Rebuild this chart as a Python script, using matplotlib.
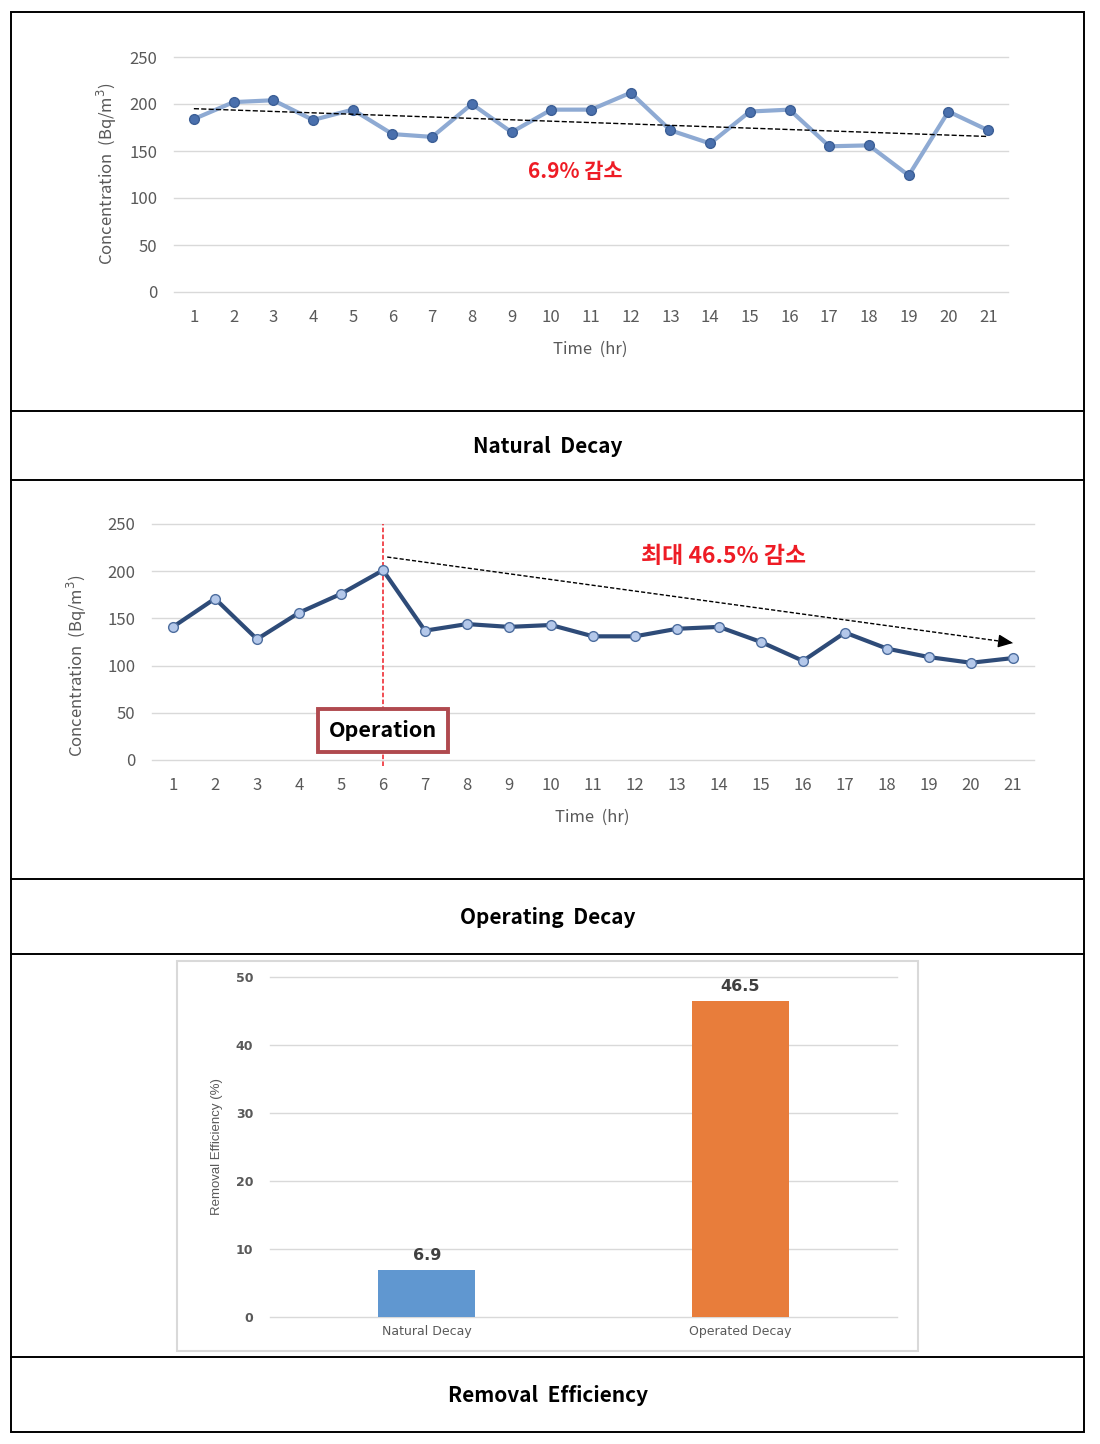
import matplotlib
matplotlib.use("Agg")
import matplotlib.pyplot as plt  # noqa: E402
import numpy as np  # noqa: E402
from matplotlib.lines import Line2D  # noqa: E402
from matplotlib.patches import Rectangle  # noqa: E402

# ---- data ------------------------------------------------------------ #
hours = np.arange(1, 22)
natural = [184, 202, 204, 183, 194, 168, 165, 200, 170, 194, 194,
           212, 172, 158, 192, 194, 155, 156, 124, 192, 172]
operating = [141, 171, 128, 156, 176, 201, 137, 144, 141, 143, 131,
             131, 139, 141, 125, 105, 135, 118, 109, 103, 108]
operation_hour = 6
arrow_start = (6.1, 215)
arrow_end = (21, 124)
categories = ["Natural Decay", "Operated Decay"]
efficiency = [6.9, 46.5]
captions = ["Natural  Decay", "Operating  Decay", "Removal  Efficiency"]

KR = ["Noto Sans CJK KR", "DejaVu Sans"]
plt.rcParams["font.family"] = KR
GRAY = "#595959"
GRID = "#d9d9d9"
RED = "#ee1c25"

W, H = 1100, 1444
fig = plt.figure(figsize=(W / 100, H / 100), dpi=100)


def box(x0, y0, x1, y1):
    """pixel box (top-left origin) -> figure fraction rect"""
    return [x0 / W, 1 - y1 / H, (x1 - x0) / W, (y1 - y0) / H]


def ftext(px, py, s, **kw):
    fig.text(px / W, 1 - py / H, s, **kw)


def hline(py, x0=11, x1=1084, lw=1.4):
    fig.add_artist(Line2D([x0 / W, x1 / W], [1 - py / H] * 2, color="black", lw=lw,
                          transform=fig.transFigure))


def style_axes(ax):
    ax.grid(axis="y", color=GRID, lw=1); ax.set_axisbelow(True)
    for gl in ax.get_ygridlines():
        gl.set_clip_on(False)
    for sp in ax.spines.values():
        sp.set_visible(False)


def style_line_axes(ax):
    ax.set_xlim(0.5, 21.5); ax.set_ylim(0, 250)
    ax.set_yticks(range(0, 251, 50)); ax.set_xticks(hours)
    style_axes(ax)
    ax.tick_params(length=0, labelsize=12, labelcolor=GRAY)
    ax.tick_params(axis="x", pad=12); ax.tick_params(axis="y", pad=12)


# --- table frame ------------------------------------------------------- #
fig.add_artist(Rectangle((11 / W, 1 - 1432 / H), 1073 / W, 1420 / H, fill=False,
                         ec="black", lw=1.4, transform=fig.transFigure))
for py in (411, 480, 879, 954, 1357):
    hline(py)
for py, cap in zip((446, 917, 1395), captions):
    ftext(548, py, cap, ha="center", va="center", fontsize=15, fontweight="bold")

# --- natural decay ---------------------------------------------------- #
ax = fig.add_axes(box(174, 57, 1008, 292))
style_line_axes(ax)
ax.plot(hours, natural, "-o", color="#8eaad3", lw=3, ms=7,
        mfc="#4a70ad", mec="#3c5f96", mew=1, zorder=3)
k, b = np.polyfit(hours, natural, 1)
ax.plot(hours[[0, -1]], k * hours[[0, -1]] + b, "--", color="black", lw=1, zorder=4)
ax.text(10.6, 128, "6.9% 감소", color=RED, fontsize=15, fontweight="bold",
        ha="center", va="center")
ftext(107, 174, "Concentration  (Bq/m$^3$)", rotation=90, ha="center", va="center",
      fontsize=12, color=GRAY)
ftext(590, 349, "Time  (hr)", ha="center", va="center", fontsize=12, color=GRAY)

# --- operating decay -------------------------------------------------- #
ax = fig.add_axes(box(152, 524, 1034, 760))
style_line_axes(ax)
ax.plot(hours, operating, "-o", color="#2e4b78", lw=3, ms=7,
        mfc="#b4c8ea", mec="#4d6d9e", mew=1, zorder=3)
ax.plot([operation_hour] * 2, [-6, 250], "--", color=RED, lw=1.1, dashes=(3, 1.5),
        clip_on=False, zorder=2)
ax.plot([arrow_start[0], arrow_end[0]], [arrow_start[1], arrow_end[1]], "--",
        color="black", lw=1, dashes=(3, 1.5), zorder=4)
ax.annotate("", xy=arrow_end, xytext=(arrow_end[0] - 0.3, arrow_end[1] + 1.8),
            arrowprops=dict(arrowstyle="-|>,head_length=0.9,head_width=0.4",
                            color="black", lw=1, shrinkA=0, shrinkB=0))
ax.text(operation_hour, 31, "Operation", ha="center", va="center", fontsize=15.5,
        fontweight="bold", zorder=5,
        bbox=dict(boxstyle="square,pad=0.5", fc="white", ec="#b04a4f", lw=2.8))
ax.text(14.1, 216, "최대 46.5% 감소", color=RED, fontsize=16.5, fontweight="bold",
        ha="center", va="center")
ftext(77, 666, "Concentration  (Bq/m$^3$)", rotation=90, ha="center", va="center",
      fontsize=12, color=GRAY)
ftext(592, 817, "Time  (hr)", ha="center", va="center", fontsize=12, color=GRAY)

# --- removal efficiency bars ------------------------------------------ #
fig.add_artist(Rectangle((177 / W, 1 - 1351 / H), 741 / W, 390 / H, fill=False,
                         ec=GRID, lw=1.5, transform=fig.transFigure))
ax = fig.add_axes(box(270, 977, 897, 1317))
x = np.arange(len(categories))
bars = ax.bar(x, efficiency, width=0.31, color=["#6097d0", "#e87d3b"], zorder=3)
for bar, v in zip(bars, efficiency):
    ax.annotate(f"{v}", (bar.get_x() + bar.get_width() / 2, v), xytext=(0, 5),
                textcoords="offset points", ha="center", va="bottom", fontsize=11.5,
                fontweight="bold", color="#404040", family="DejaVu Sans")
ax.set_xlim(-0.5, 1.5); ax.set_ylim(0, 50)
ax.set_yticks(range(0, 51, 10)); ax.set_xticks(x, categories)
style_axes(ax)
ax.tick_params(length=0, labelsize=9, labelcolor=GRAY, pad=12)
for lab in ax.get_xticklabels() + ax.get_yticklabels():
    lab.set_family("DejaVu Sans")
for lab in ax.get_yticklabels():
    lab.set_fontweight("bold")
ax.tick_params(axis="x", pad=6)
ftext(217, 1147, "Removal Efficiency (%)", rotation=90, ha="center", va="center",
      fontsize=9.5, color=GRAY, family="Liberation Sans")

fig.savefig("out.png", dpi=100)
